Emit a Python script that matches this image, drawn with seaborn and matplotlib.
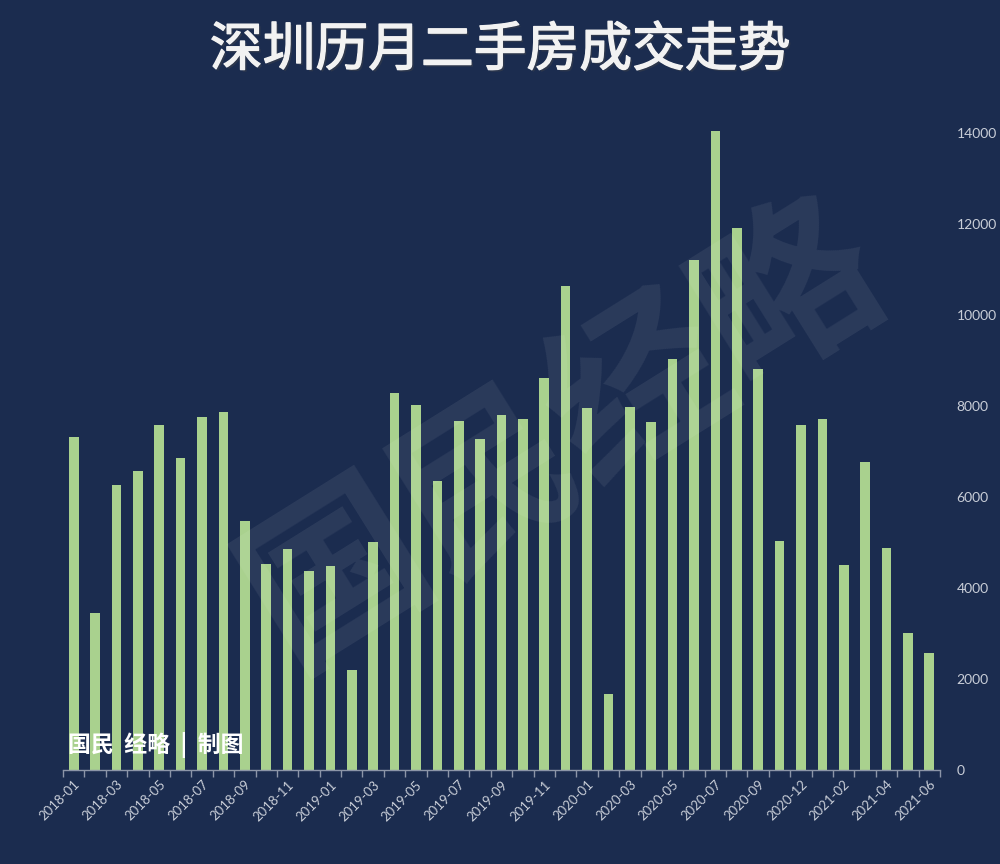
import seaborn as sns
import pandas as pd
import matplotlib.pyplot as plt
import matplotlib.patheffects as pe

# monthly second-hand home deals in Shenzhen (2020-11 not in the source table)
months = ['2018-01', '2018-02', '2018-03', '2018-04', '2018-05', '2018-06', '2018-07', '2018-08',
          '2018-09', '2018-10', '2018-11', '2018-12', '2019-01', '2019-02', '2019-03', '2019-04',
          '2019-05', '2019-06', '2019-07', '2019-08', '2019-09', '2019-10', '2019-11', '2019-12',
          '2020-01', '2020-02', '2020-03', '2020-04', '2020-05', '2020-06', '2020-07', '2020-08',
          '2020-09', '2020-10', '2020-12', '2021-01', '2021-02', '2021-03', '2021-04', '2021-05',
          '2021-06']
deals = [7320, 3440, 6260, 6580, 7580, 6850, 7770, 7880,
         5470, 4520, 4850, 4370, 4480, 2200, 5020, 8280,
         8020, 6360, 7680, 7270, 7800, 7710, 8610, 10640,
         7950, 1660, 7990, 7650, 9030, 11200, 14040, 11910,
         8810, 5040, 7590, 7720, 4510, 6770, 4870, 3020,
         2570]
y_ticks = [0, 2000, 4000, 6000, 8000, 10000, 12000, 14000]

title = '深圳历月二手房成交走势'
watermark = '国民经略'
credit = '国民  经略  |  制图'

bg = '#1b2c4f'
bar_color = '#a9d18e'
text_color = '#c9ced8'

df = pd.DataFrame({'month': months, 'deals': deals})

sns.set_theme(style='white')
plt.rcParams['font.family'] = ['Lato', 'Noto Sans CJK SC', 'DejaVu Sans']

fig = plt.figure(figsize=(10, 8.64), dpi=100, facecolor=bg)
ax = fig.add_axes([0.063, 0.1088, 0.877, 0.7477])
ax.set_facecolor(bg)

sns.barplot(data=df, x='month', y='deals', color=bar_color, saturation=1,
            width=0.45, linewidth=0, ax=ax)

ax.set_xlim(-0.5, len(months) - 0.5)
ax.set_ylim(0, 14200)

# x axis: tick marks between bars, labels on every other month
ax.set_xticks(range(0, len(months), 2))
ax.set_xticklabels(months[::2], rotation=45, ha='right', rotation_mode='anchor',
                   fontsize=9.5, color=text_color)
ax.set_xticks([i - 0.5 for i in range(len(months) + 1)], minor=True)
ax.tick_params(axis='x', which='major', length=0, pad=6)
ax.tick_params(axis='x', which='minor', length=5, width=1, color='#8c95a8', bottom=True)

# y axis on the right, no line
ax.yaxis.tick_right()
ax.set_yticks(y_ticks)
ax.set_yticklabels([str(v) for v in y_ticks], fontsize=10, color=text_color)
ax.tick_params(axis='y', length=0, pad=12)

for side in ['top', 'left', 'right']:
    ax.spines[side].set_visible(False)
ax.spines['bottom'].set_color('#8c95a8')
ax.spines['bottom'].set_linewidth(1)
ax.set_xlabel('')
ax.set_ylabel('')

fig.text(0.5, 0.942, title, ha='center', va='center', fontsize=38, color='#f2f2f2',
         family=['Noto Sans CJK SC', 'DejaVu Sans'], fontweight='medium',
         path_effects=[pe.withSimplePatchShadow(offset=(1.5, -1.5), alpha=0.4),
                       pe.withStroke(linewidth=1.0, foreground='#f2f2f2')])

fig.text(0.563, 1 - 434 / 864, watermark, ha='center', va='center', fontsize=128,
         rotation=32, color='white', alpha=0.07, fontweight='bold',
         family=['Noto Sans CJK SC', 'DejaVu Sans'])

fig.text(0.068, 1 - 745 / 864, credit, ha='left', va='center', fontsize=16.5,
         color='white', fontweight='bold', family=['Noto Sans CJK SC', 'DejaVu Sans'])

plt.savefig('out.png', dpi=100, facecolor=bg)
